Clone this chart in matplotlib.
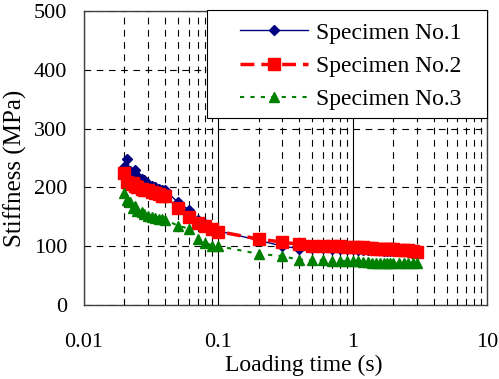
import matplotlib
matplotlib.use("Agg")
import matplotlib.pyplot as plt
from matplotlib.patches import Rectangle
from matplotlib.ticker import LogLocator, FixedLocator, NullFormatter

# Loading times (s)
time_s = [0.020, 0.021, 0.022, 0.023, 0.024, 0.025, 0.027, 0.028, 0.030, 0.032,
          0.034, 0.036, 0.038, 0.040, 0.05, 0.06, 0.07, 0.08, 0.09, 0.10,
          0.2, 0.3, 0.4, 0.5, 0.6, 0.7, 0.8, 0.9, 1.0, 1.1, 1.2, 1.3, 1.4,
          1.5, 1.6, 1.7, 1.8, 1.9, 2.0, 2.2, 2.4, 2.6, 2.8, 3.0]

# Stiffness (MPa)
spec1 = [235, 248, 228, 225, 230, 220, 215, 212, 205, 203,
         200, 198, 196, 195, 175, 162, 145, 137, 130, 126,
         110, 100, 96, 97, 97, 96, 96, 95, 95, 94, 94, 94, 93,
         93, 93, 92, 92, 92, 92, 91, 91, 91, 90, 90]
spec2 = [225, 210, 205, 207, 203, 200, 198, 196, 195, 192,
         190, 188, 186, 185, 165, 150, 140, 135, 130, 125,
         112, 107, 103, 100, 100, 100, 100, 99, 99, 98, 98, 97, 97,
         96, 96, 96, 95, 95, 95, 94, 94, 93, 92, 90]
spec3 = [190, 178, 175, 165, 168, 160, 158, 155, 152, 150,
         148, 147, 146, 145, 135, 130, 112, 106, 101, 100,
         87, 83, 77, 76, 76, 75, 75, 75, 74, 74, 73, 73, 72,
         72, 72, 72, 71, 71, 71, 71, 71, 71, 71, 71]

plt.rcParams['font.family'] = ['Liberation Serif', 'DejaVu Serif']

W, H = 499, 379
fig = plt.figure(figsize=(W / 100, H / 100), dpi=100)
ax = fig.add_axes([84 / W, 1 - 305 / H, 403 / W, 294 / H])

ax.plot(time_s, spec1, color='#000080', lw=1.0, ls='-', marker='D', ms=5,
        label='Specimen No.1', zorder=3)
ax.plot(time_s, spec2, color='#ff0000', lw=2.5, ls=(0, (4, 2)), marker='s', ms=8,
        label='Specimen No.2', zorder=4)
ax.plot(time_s, spec3, color='#008000', lw=1.5, ls=(0, (2, 3)), marker='^', ms=7,
        label='Specimen No.3', zorder=5)

ax.set_xscale('log')
ax.set_xlim(0.01, 10)
ax.set_ylim(0, 500)
ax.xaxis.set_major_locator(FixedLocator([0.01, 0.1, 1, 10]))
ax.set_xticklabels(['0.01', '0.1', '1', '10'])
ax.xaxis.set_minor_locator(LogLocator(base=10, subs=range(2, 10)))
ax.xaxis.set_minor_formatter(NullFormatter())
ax.set_yticks([0, 100, 200, 300, 400, 500])

ax.grid(True, which='major', axis='x', color='black', lw=0.8, ls='-')
ax.grid(True, which='minor', axis='x', color='black', lw=0.8, ls=(0, (6, 5)))
ax.grid(True, which='major', axis='y', color='black', lw=0.8, ls=(0, (6, 5)))
ax.set_axisbelow(True)

ax.tick_params(which='both', length=0, labelsize=16)
ax.tick_params(axis='x', pad=20)
ax.tick_params(axis='y', pad=12)
for s in ax.spines.values():
    s.set_color('#404040')
    s.set_linewidth(1.0)

ax.set_xlabel('Loading time (s)', fontsize=17, va='center')
ax.xaxis.set_label_coords((304 - 84) / 403, (305 - 365) / 294)
ax.set_ylabel('Stiffness (MPa)', fontsize=18, va='center')
ax.yaxis.set_label_coords((15 - 84) / 403, (305 - 168) / 294)

# legend box drawn separately so its padding can match the reference
ax.add_patch(Rectangle((207 / W, 1 - 118 / H), 280 / W, 108 / H,
                       transform=fig.transFigure, fc='white', ec='black',
                       lw=0.8, zorder=6, clip_on=False))
leg = ax.legend(loc='upper left', bbox_to_anchor=(240 / W, 1 - 22 / H),
                bbox_transform=fig.transFigure, fontsize=17, frameon=False,
                borderaxespad=0.0, borderpad=0.0, handlelength=2.9,
                handletextpad=0.3, labelspacing=0.5)
leg.set_zorder(7)

fig.savefig('out.png', dpi=100)
